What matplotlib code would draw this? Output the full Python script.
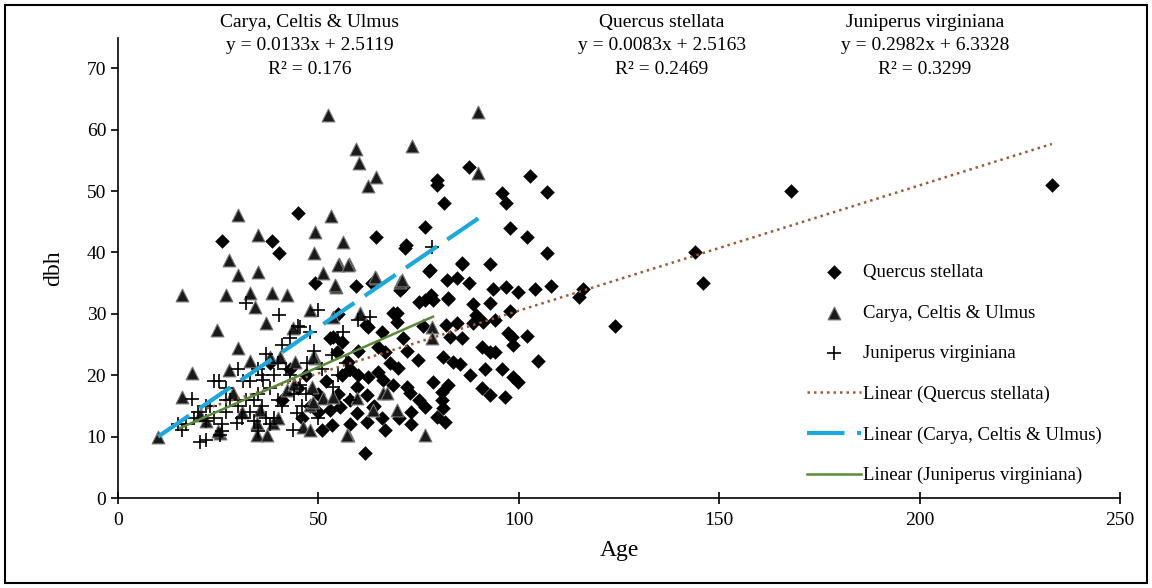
import numpy as np
import matplotlib
matplotlib.use("Agg")
from matplotlib import pyplot as plt
from matplotlib.patches import Rectangle

# data (Age, dbh)
quercus_age = [25.9, 38.4, 40.1, 44.9, 64.3, 71.6, 71.8, 76.6, 79.6, 79.6, 81.3, 77.6, 49.1, 59.4,
               63.3, 70.3, 82.0, 87.5, 102.7, 107.0, 95.8, 96.8, 97.8, 102.0, 107.0, 85.8, 92.8,
               84.5, 87.5, 93.5, 96.8, 99.8, 104.0, 108.0,
               115.0, 116.0, 124.0, 144.0, 146.0, 168.0, 233.0,
               82.3, 92.8, 88.5, 89.3, 97.8, 81.8, 84.5, 88.5, 91.0, 94.0, 82.8, 85.8, 97.3, 98.3,
               102.0, 90.8, 92.8, 94.0, 98.5, 104.7, 81.0, 83.5, 85.3, 87.8, 91.5, 95.8, 98.5, 99.8,
               82.3, 80.8, 90.8, 92.8, 96.5, 81.0, 81.5,
               69.6, 69.6, 62.3, 53.6, 54.6, 64.8, 66.6, 67.8, 69.8, 74.8, 57.4, 62.3, 66.1, 68.6,
               72.1, 72.8, 78.6, 59.6, 57.9, 62.1, 63.6, 55.4, 52.9, 50.9, 62.1, 66.6, 61.6, 76.6,
               79.6, 80.8, 53.4, 59.6,
               47.0, 45.0, 50.0, 52.0, 55.0, 56.0, 58.0, 60.0, 60.0, 64.0, 66.0, 70.0, 73.0, 75.0,
               72.0, 76.0, 78.0, 75.0, 66.0, 71.0, 55.0, 43.0, 41.0, 38.0, 46.0, 48.0,
               52.9, 56.0, 62.0, 68.6, 71.0, 77.8, 85.8, 82.3, 76.6, 78.6, 65.0, 58.0, 50.0, 73.0]
quercus_dbh = [41.9, 41.9, 39.9, 46.4, 42.5, 40.7, 41.2, 44.1, 51.8, 51.0, 48.0, 37.0, 35.0, 34.5,
               35.0, 33.9, 35.5, 53.9, 52.4, 49.8, 49.7, 48.0, 44.0, 42.5, 39.9, 38.1, 38.1,
               35.8, 35.0, 34.0, 34.4, 33.6, 34.0, 34.5,
               32.8, 34.0, 28.0, 40.0, 35.0, 50.0, 51.0,
               32.6, 31.8, 31.6, 29.8, 30.5, 28.2, 28.5, 28.5, 28.7, 29.0, 26.2, 26.1, 26.9, 26.2,
               26.4, 24.6, 23.8, 23.8, 24.9, 22.3, 23.0, 22.1, 21.8, 20.0, 21.0, 21.0, 19.7, 18.9,
               18.4, 17.3, 17.9, 16.8, 16.4, 14.7, 12.4,
               30.1, 28.7, 27.9, 26.2, 23.8, 24.6, 23.8, 22.0, 21.2, 22.5, 22.2, 19.7, 19.2, 18.4,
               18.1, 17.1, 18.9, 18.1, 16.0, 16.8, 14.8, 14.8, 14.3, 11.1, 12.4, 11.1, 7.3, 14.8,
               13.2, 16.0, 11.9, 13.8,
               20.0, 18.0, 17.0, 19.0, 17.0, 20.0, 21.0, 24.0, 20.0, 15.0, 13.0, 13.0, 14.0, 16.0,
               24.0, 28.0, 33.0, 32.0, 27.0, 26.0, 30.0, 21.0, 16.0, 22.0, 13.0, 15.0,
               26.0, 25.4, 28.2, 30.1, 34.4, 37.1, 38.3, 32.4, 32.2, 32.2, 20.5, 12.0, 14.0, 12.0]

carya_age = [52.4, 59.4, 60.1, 64.3, 62.3, 73.3, 53.1, 49.1, 56.1, 48.9, 55.1, 57.6, 51.1, 54.4,
             64.3, 70.3, 89.8, 89.8,
             29.9, 34.9, 27.7, 29.9, 34.9, 16.0, 27.0, 32.9, 38.4, 42.1,
             24.7, 36.9, 29.9, 27.7, 32.9, 18.5, 16.0, 10.0, 28.7, 34.2, 43.6,
             47.9, 53.6, 60.3, 78.3, 78.3, 49.1, 44.1, 48.4, 51.1, 59.6, 66.1, 69.6, 57.4, 76.6,
             47.9, 46.1,
             34.6, 25.4, 34.6, 37.1, 47.9, 57.1, 40.4, 48.6, 42.1, 48.6, 53.6, 63.6, 67.1, 35.4,
             38.7, 54.9, 57.4, 37.9, 54.1, 64.1, 70.8, 22.0, 20.5, 25.0, 40.0, 44.0, 31.0]
carya_dbh = [62.4, 56.8, 54.6, 52.3, 50.8, 57.3, 45.9, 43.3, 41.7, 39.9, 38.1, 38.1, 36.6, 34.4,
             35.8, 35.2, 62.9, 52.9,
             46.1, 42.8, 38.8, 36.3, 36.8, 33.0, 33.0, 33.4, 33.4, 33.0,
             27.4, 28.5, 24.4, 20.8, 22.3, 20.4, 16.4, 10.0, 17.1, 31.1, 27.7,
             30.6, 29.5, 30.1, 27.9, 26.1, 22.8, 22.2, 18.1, 16.3, 16.3, 17.1, 14.3, 10.3, 10.3,
             15.1, 11.6,
             12.2, 10.6, 10.3, 10.3, 11.1, 10.3, 23.0, 23.0, 17.6, 15.6, 16.4, 14.3, 17.1, 14.3,
             12.2, 37.9, 37.9, 23.0, 34.7, 36.0, 35.5, 12.5, 13.5, 11.0, 13.0, 18.5, 14.0]

juniperus_age = [78.3, 31.9, 40.1, 40.9, 36.9, 25.2, 31.2, 36.2, 18.5, 16.0, 20.4, 22.0, 25.4,
                 29.7, 49.9, 62.8, 45.4, 56.1, 53.4, 47.1, 45.4, 53.6, 44.6, 43.6, 57.9,
                 20.0, 22.0, 24.0, 26.0, 27.0, 28.0, 30.0, 31.0, 33.0, 34.0, 35.0, 36.0, 37.0,
                 38.0, 39.0, 40.0, 41.0, 42.0, 43.0, 44.0, 33.0, 30.0, 27.0, 24.0, 22.0, 19.0,
                 17.0, 35.0, 38.0, 47.0, 49.0, 51.0, 55.0, 58.0, 60.0, 27.0, 32.0, 36.0, 39.0,
                 46.0, 50.0, 15.0, 34.0, 26.0, 23.0, 40.0, 45.0, 48.0, 43.0, 35.0, 55.0, 57.0]
juniperus_dbh = [40.9, 31.8, 29.8, 24.9, 23.5, 19.1, 19.1, 19.2, 16.1, 11.1, 9.1, 9.5, 10.3,
                 12.2, 30.6, 29.5, 27.9, 27.0, 23.3, 22.0, 18.4, 18.1, 13.8, 11.1, 20.8,
                 14.0, 12.5, 13.0, 12.0, 14.0, 16.0, 15.0, 13.0, 14.0, 16.0, 17.0, 15.0, 13.0,
                 18.0, 20.0, 16.0, 15.0, 21.0, 20.0, 17.0, 19.0, 21.0, 18.0, 19.0, 15.0, 13.0,
                 12.0, 11.0, 12.0, 17.0, 24.0, 21.0, 20.0, 16.0, 29.0, 16.0, 16.0, 20.0, 13.0,
                 15.0, 13.0, 12.0, 12.5, 11.0, 15.0, 22.0, 28.0, 27.0, 26.0, 21.0, 26.0, 22.0]

# trend lines as drawn (slope, intercept, x range)
trend_names = ["Linear (Quercus stellata)", "Linear (Carya, Celtis & Ulmus)",
               "Linear (Juniperus virginiana)"]
trend_slope = [0.2042, 0.445, 0.2875]
trend_icept = [10.1, 5.55, 6.95]
trend_x0 = [20.5, 10.0, 15.5]
trend_x1 = [233.0, 90.0, 78.6]

eq_titles = ["Carya, Celtis & Ulmus", "Quercus stellata", "Juniperus virginiana"]
eq_lines = ["y = 0.0133x + 2.5119", "y = 0.0083x + 2.5163", "y = 0.2982x + 6.3328"]
eq_r2 = ["R\u00b2 = 0.176", "R\u00b2 = 0.2469", "R\u00b2 = 0.3299"]

plt.rcParams['font.family'] = ['Liberation Serif', 'DejaVu Serif']

fig = plt.figure(figsize=(11.52, 5.88), dpi=100)
ax = fig.add_axes([0.1024, 0.153, 0.8698, 0.783])

ax.scatter(quercus_age, quercus_dbh, marker='D', s=55, color='black', linewidths=0,
           label="Quercus stellata", zorder=3)
ax.scatter(carya_age, carya_dbh, marker='^', s=85, color='#1a1a1a', edgecolors='#777777',
           linewidths=0.8, label="Carya, Celtis & Ulmus", zorder=3)
ax.scatter(juniperus_age, juniperus_dbh, marker='+', s=100, color='black', linewidths=1.2,
           label="Juniperus virginiana", zorder=3)

styles = [dict(color='#9a5a3a', linestyle=(0, (1, 1.6)), linewidth=1.8),
          dict(color='#1ba8dc', linestyle=(0, (9, 3)), linewidth=3.0),
          dict(color='#5a8a3a', linestyle='-', linewidth=1.8)]
for name, m, b, x0, x1, st in zip(trend_names, trend_slope, trend_icept, trend_x0, trend_x1, styles):
    xs = np.array([x0, x1])
    ax.plot(xs, m * xs + b, label=name, zorder=4, **st)

ax.set_xlim(0, 250)
ax.set_ylim(0, 75)
ax.set_xticks([0, 50, 100, 150, 200, 250])
ax.set_yticks(range(0, 71, 10))
ax.spines['top'].set_visible(False)
ax.spines['right'].set_visible(False)
ax.spines['left'].set_linewidth(1.2)
ax.spines['bottom'].set_linewidth(1.2)
ax.tick_params(axis='x', direction='inout', length=8, width=1.2, labelsize=14, pad=6)
ax.tick_params(axis='y', direction='out', length=5, width=1.2, labelsize=14)
ax.set_xlabel("Age", fontsize=17, labelpad=8)
ax.set_ylabel("dbh", fontsize=17, labelpad=16)

ax.legend(loc='upper left', bbox_to_anchor=(0.68, 0.525), frameon=False, fontsize=13.5,
          labelspacing=1.25, handlelength=2.9, handletextpad=0.1, borderaxespad=0)

centers = [310, 662, 925]
for cx, t, e, r in zip(centers, eq_titles, eq_lines, eq_r2):
    fig.text(cx / 1152, 1 - 46 / 588, t + "\n" + e + "\n" + r, ha='center', va='center',
             fontsize=14, linespacing=1.5)

fig.patches.append(Rectangle((5 / 1152, 5 / 588), 1142 / 1152, 578 / 588, transform=fig.transFigure,
                             fill=False, edgecolor='black', linewidth=1.5))

fig.savefig("out.png", dpi=100)
